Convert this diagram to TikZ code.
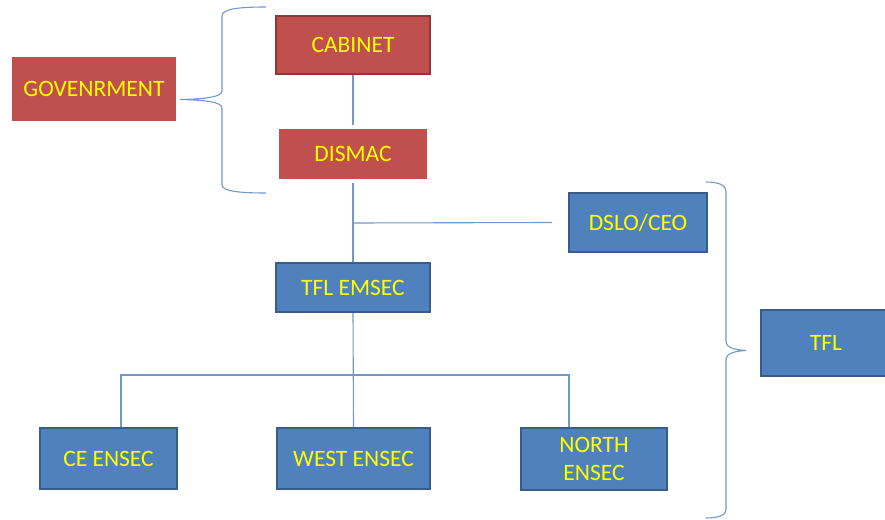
\documentclass[tikz,border=0pt]{standalone}
\usepackage{fontspec}
\setmainfont{Carlito}
\usetikzlibrary{shadows,calc}
\definecolor{redf}{HTML}{C0504D}
\definecolor{redd}{HTML}{8C3836}
\definecolor{bluef}{HTML}{4F81BD}
\definecolor{blued}{HTML}{385D8A}
\definecolor{linec}{HTML}{7098CB}
\definecolor{txt}{HTML}{FFFF00}
\begin{document}
\begin{tikzpicture}[x=1pt,y=-1pt,
  box/.style={rectangle, inner sep=0pt, align=center, text=txt,
    font=\fontsize{23.5}{26}\selectfont},
  redbox/.style={box, fill=redf, draw=redd, line width=2pt},
  whitered/.style={box, fill=redf, draw=white, line width=4pt,
    drop shadow={shadow xshift=1.5pt, shadow yshift=-2pt, opacity=0.35}},
  bluebox/.style={box, fill=bluef, draw=blued, line width=2pt},
  conn/.style={draw=linec, line width=1.1pt},
  brace/.style={draw=linec, line width=1.1pt}]
\useasboundingbox (0,0) rectangle (885,519);
\node[whitered, minimum width=168pt, minimum height=68pt] (gov) at (94,89) {GOVENRMENT};
\node[redbox, minimum width=154pt, minimum height=58pt] (cab) at (353,45) {CABINET};
\node[whitered, minimum width=152pt, minimum height=54pt] (dis) at (353,154) {DISMAC};
\node[bluebox, minimum width=138pt, minimum height=59pt] (dslo) at (638,222.5) {DSLO/CEO};
\node[bluebox, minimum width=154pt, minimum height=49pt] (emsec) at (353,287.5) {TFL EMSEC};
\node[bluebox, minimum width=137pt, minimum height=61pt] (ce) at (108.5,458.5) {CE ENSEC};
\node[bluebox, minimum width=153pt, minimum height=61pt] (west) at (353.5,458.5) {WEST ENSEC};
\node[bluebox, minimum width=146pt, minimum height=62pt, font=\fontsize{23.5}{28}\selectfont] (north) at (594,459) {NORTH\\ENSEC};
\node[bluebox, minimum width=130pt, minimum height=66pt] (tfl) at (826,343) {TFL};
% connectors
\coordinate (dj) at (353,223);
\coordinate (dsloend) at ($(dslo.west)+(-16,0)$);
\coordinate (bus) at (353,375);
\coordinate (nn) at ($(north.north west)+(49,0)$);
\coordinate (cn) at ($(ce.north west)+(82,0)$);
\draw[conn] (cab.south) -- (dis.south |- dis.north);
\draw[conn] (dis.south) -- (emsec.north);
\draw[conn] (dj) -- (dsloend);
\draw[conn] (emsec.south) -- (west.north);
\draw[conn] (cn) |- (bus) -| (nn);
% braces
\draw[brace] (266,7) .. controls (238,7) and (222,9) .. (222,16) -- (222,91)
  .. controls (222,97) and (205,99) .. (180,99.5)
  .. controls (205,100) and (222,102) .. (222,108) -- (222,185)
  .. controls (222,191) and (238,193) .. (266,193);
\draw[brace] (706,182) .. controls (718,182) and (726,185) .. (726,191) -- (726,342)
  .. controls (726,347) and (734,350) .. (746,350.5)
  .. controls (734,351) and (726,354) .. (726,359) -- (726,510)
  .. controls (726,515) and (718,518) .. (706,518);
\end{tikzpicture}
\end{document}
